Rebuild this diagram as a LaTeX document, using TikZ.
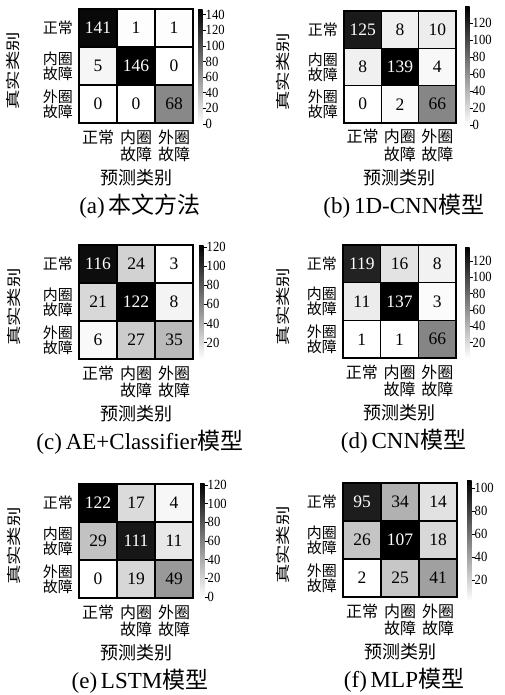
\documentclass[tikz,border=0pt]{standalone}
\usepackage{fontspec}
\usepackage{graphicx}
\setmainfont{Liberation Serif}
\newfontfamily\cjk{Noto Sans CJK SC}
\tikzset{
  cell/.style={draw=black, line width=1.1pt, inner sep=0pt, minimum size=\cs pt, font=\fontsize{17.5}{17.5}\selectfont},
  rowlab/.style={anchor=east, align=right, inner sep=0pt, font=\cjk\fontsize{15}{13}\selectfont},
  collab/.style={inner sep=0pt, font=\cjk\fontsize{16}{16}\selectfont},
  axlab/.style={inner sep=0pt, font=\cjk\fontsize{18}{18}\selectfont},
  ylab/.style={inner sep=0pt, rotate=90, font=\cjk\fontsize{18}{18}\selectfont},
  captext/.style={inner sep=0pt, font=\fontsize{23}{23}\selectfont},
  tlab/.style={anchor=west, inner sep=0pt, font=\fontsize{14}{14}\selectfont},
}
\newcommand\drawpanel[4]{%
  \pgfmathsetmacro\by{\py+3*\cs}%
  \pgfmathsetmacro\mx{\px+1.5*\cs}%
  \foreach \v [count=\k from 0] in {#2} {%
    \pgfmathtruncatemacro\rr{int(\k/3)}%
    \pgfmathtruncatemacro\cc{mod(\k,3)}%
    \pgfmathsetmacro\pp{(\v-\vmin)/(\vmax-\vmin)*100}%
    \ifdim\pp pt>50pt \def\tc{white}\else\def\tc{black}\fi
    \node[cell, fill=black!\pp, text=\tc] (#1-\rr\cc) at ({\px+(\cc+0.5)*\cs},{\py+(\rr+0.5)*\cs}) {\v};
  }
  \draw[line width=1.6pt] (\px,\py) rectangle ({\px+3*\cs},\by);
  \node[rowlab] (#1-r0) at ({\px-6},{\py+0.5*\cs}) {正常};
  \node[rowlab] (#1-r1) at ({\px-6},{\py+1.5*\cs}) {内圈\\故障};
  \node[rowlab] (#1-r2) at ({\px-6},{\py+2.5*\cs}) {外圈\\故障};
  \node[collab] (#1-c0) at ({\px+0.5*\cs},{\by+14}) {正常};
  \node[collab] (#1-c1) at ({\px+1.5*\cs},{\by+14}) {内圈};
  \node[collab] (#1-c1b) at ({\px+1.5*\cs},{\by+31}) {故障};
  \node[collab] (#1-c2) at ({\px+2.5*\cs},{\by+14}) {外圈};
  \node[collab] (#1-c2b) at ({\px+2.5*\cs},{\by+31}) {故障};
  \node[axlab] (#1-xl) at (\mx,{\by+55}) {预测类别};
  \node[ylab] (#1-yl) at (\ylx,{\mx-\px+\py+5}) {\scalebox{1.08}[0.8]{真实类别}};
  \node[captext] (#1-cap) at ({\mx+4},{\by+83}) {#4};
  \shade[top color=black, bottom color=white] (\bx,\bt) rectangle ({\bx+4.5},\bb);
  \foreach \t [count=\j] in {#3} {%
    \pgfmathsetmacro\ty{\bb-(\t-\vmin)/(\vmax-\vmin)*(\bb-\bt)}%
    \draw[line width=0.6pt] ({\bx+4.5},\ty) -- ({\bx+7.5},\ty);
    \node[tlab] (#1-t\j) at ({\bx+7.5},\ty) {\scalebox{0.9}[1]{\t}};
  }
}
\begin{document}
\begin{tikzpicture}[x=1pt,y=-1pt]
\useasboundingbox (0,0) rectangle (504,695);
% (a)
\def\px{79}\def\py{9}\def\cs{38}\def\bx{198}\def\bt{10}\def\bb{124}\def\vmin{0}\def\vmax{146}\def\ylx{13}
\drawpanel{a}{141,1,1,5,146,0,0,0,68}{0,20,...,140}{(a)\,{\cjk 本文方法}}
% (b)
\def\px{344}\def\py{11}\def\cs{37.3}\def\bx{465}\def\bt{7}\def\bb{125}\def\vmin{0}\def\vmax{139}\def\ylx{283}
\drawpanel{b}{125,8,10,8,139,4,0,2,66}{0,20,...,120}{(b)\,1D-CNN{\cjk 模型}}
% (c)
\def\px{79}\def\py{245}\def\cs{38}\def\bx{199}\def\bt{245}\def\bb{359}\def\vmin{3}\def\vmax{122}\def\ylx{14}
\drawpanel{c}{116,24,3,21,122,8,6,27,35}{20,40,...,120}{(c)\,AE+Classifier{\cjk 模型}}
% (d)
\def\px{343}\def\py{245}\def\cs{37.7}\def\bx{465}\def\bt{247}\def\bb{358}\def\vmin{1}\def\vmax{137}\def\ylx{283}
\drawpanel{d}{119,16,8,11,137,3,1,1,66}{20,40,...,120}{(d)\,CNN{\cjk 模型}}
% (e)
\def\px{79}\def\py{484}\def\cs{38}\def\bx{200}\def\bt{483}\def\bb{597}\def\vmin{0}\def\vmax{122}\def\ylx{14}
\drawpanel{e}{122,17,4,29,111,11,0,19,49}{0,20,...,120}{(e)\,LSTM{\cjk 模型}}
% (f)
\def\px{343}\def\py{483}\def\cs{38}\def\bx{467}\def\bt{480}\def\bb{601}\def\vmin{2}\def\vmax{107}\def\ylx{283}
\drawpanel{f}{95,34,14,26,107,18,2,25,41}{20,40,...,100}{(f)\,MLP{\cjk 模型}}
\end{tikzpicture}
\end{document}
